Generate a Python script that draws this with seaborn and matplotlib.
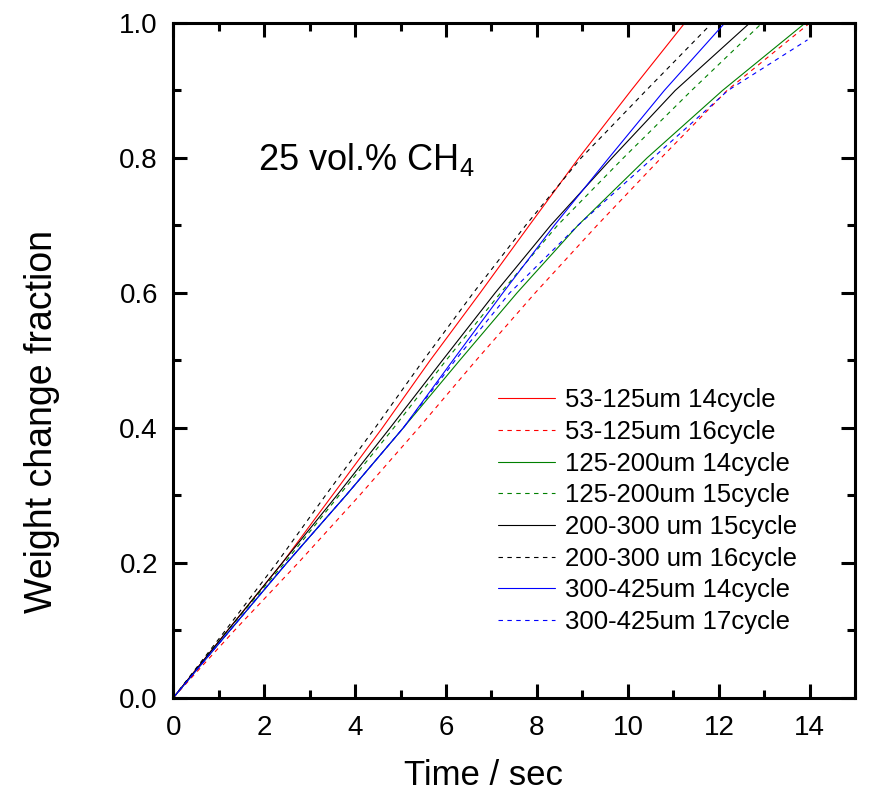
import matplotlib
matplotlib.use('Agg')
import matplotlib.pyplot as plt
import seaborn as sns
import numpy as np
import pandas as pd
from matplotlib.ticker import MultipleLocator

sns.set_style('ticks')
plt.rcParams['font.family'] = ['Liberation Sans', 'DejaVu Sans']
plt.rcParams['mathtext.default'] = 'regular'
plt.rcParams['text.color'] = 'black'
plt.rcParams['axes.labelcolor'] = 'black'
plt.rcParams['axes.edgecolor'] = 'black'
plt.rcParams['xtick.color'] = 'black'
plt.rcParams['ytick.color'] = 'black'

# weight change fraction levels, and time (sec) at which each run reaches them
frac = [0.0, 0.1, 0.2, 0.3, 0.4, 0.5, 0.6, 0.7, 0.8, 0.9, 1.0]
t_53_14 = [0, 1.2, 2.4, 3.5, 4.6, 5.65, 6.75, 7.83, 8.92, 10.07, 11.25]
t_53_16 = [0, 1.35, 2.75, 4.1, 5.4, 6.66, 7.96, 9.32, 10.73, 12.18, 14.0]
t_125_14 = [0, 1.25, 2.5, 3.8, 5.06, 6.3, 7.56, 8.9, 10.42, 12.08, 13.9]
t_125_15 = [0, 1.2, 2.45, 3.65, 4.85, 6.0, 7.2, 8.45, 9.9, 11.4, 12.95]
t_200_15 = [0, 1.2, 2.4, 3.6, 4.77, 5.92, 7.08, 8.3, 9.65, 11.04, 12.68]
t_200_16 = [0, 1.15, 2.28, 3.35, 4.44, 5.5, 6.6, 7.75, 8.97, 10.4, 11.85]
t_300_14 = [0, 1.25, 2.5, 3.8, 5.06, 6.15, 7.25, 8.38, 9.58, 10.8, 12.13]
frac_300_17 = [0.0, 0.1, 0.2, 0.3, 0.4, 0.5, 0.6, 0.7, 0.8, 0.9, 0.975]
t_300_17 = [0, 1.25, 2.5, 3.8, 5.06, 6.2, 7.4, 8.9, 10.55, 12.2, 13.95]

labels = ['53-125um 14cycle', '53-125um 16cycle', '125-200um 14cycle', '125-200um 15cycle',
          '200-300 um 15cycle', '200-300 um 16cycle', '300-425um 14cycle', '300-425um 17cycle']
times = [t_53_14, t_53_16, t_125_14, t_125_15, t_200_15, t_200_16, t_300_14, t_300_17]
fracs = [frac] * 7 + [frac_300_17]
colors = ['red', 'red', 'green', 'green', 'black', 'black', 'blue', 'blue']
dashed = [False, True, False, True, False, True, False, True]

fig = plt.figure(figsize=(8.79, 7.93), dpi=100)
ax = fig.add_axes([0.197, 0.12, 0.776, 0.851])

for lab, t, f, c, d in zip(labels, times, fracs, colors, dashed):
    df = pd.DataFrame({'Time': t, 'Fraction': f})
    sns.lineplot(data=df, x='Time', y='Fraction', ax=ax, color=c, lw=0.8,
                 linestyle=(0, (4, 4)) if d else '-', label=lab)

ax.set_xlim(0, 15)
ax.set_ylim(0, 1.0)
ax.xaxis.set_major_locator(MultipleLocator(2))
ax.xaxis.set_minor_locator(MultipleLocator(1))
ax.yaxis.set_major_locator(MultipleLocator(0.2))
ax.yaxis.set_minor_locator(MultipleLocator(0.1))
ax.tick_params(which='both', direction='in', top=True, right=True, width=2.2, labelsize=20)
ax.tick_params(axis='y', pad=11)
ax.tick_params(axis='x', pad=12)
ax.tick_params(which='major', length=10)
ax.tick_params(which='minor', length=6)
for s in ax.spines.values():
    s.set_linewidth(2.2)

ax.set_xlabel('Time / sec', fontsize=25)
ax.set_ylabel('Weight change fraction', fontsize=27)
ax.xaxis.set_label_coords(0.455, -0.09)
ax.yaxis.set_label_coords(-0.166, 0.41)
ax.text(1.87, 0.797, '25 vol.% CH$_4$', fontsize=26, va='center')

ax.legend(loc='upper left', bbox_to_anchor=(0.4765, 0.459), frameon=False, fontsize=18.5,
          handlelength=2.2, labelspacing=0.3, handletextpad=0.39,
          borderpad=0, borderaxespad=0)

fig.savefig('out.png', dpi=100)
